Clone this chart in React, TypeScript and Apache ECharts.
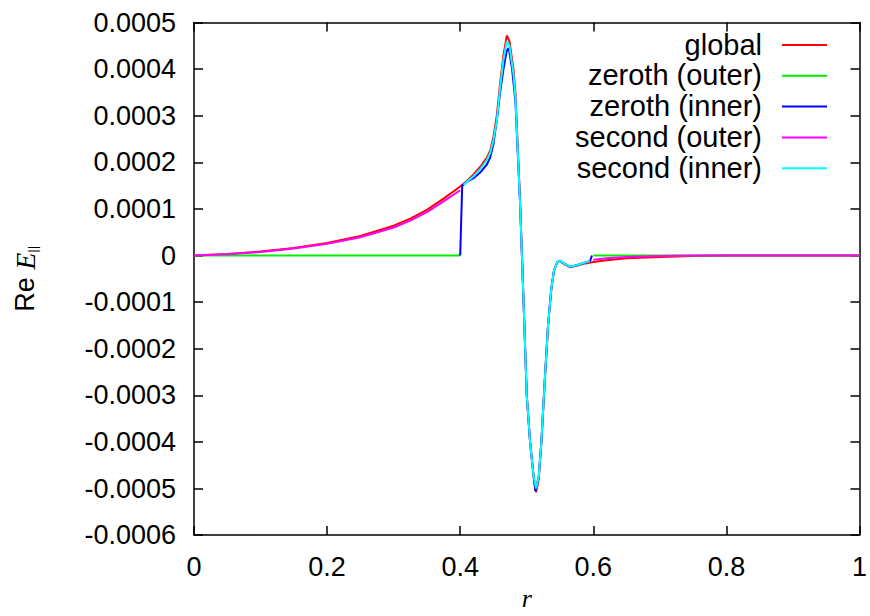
import React, { useEffect, useRef } from "react";
import * as echarts from "echarts";

// ---- data ----
const globalR = [0, 0.05, 0.1, 0.15, 0.2, 0.25, 0.3, 0.325, 0.35, 0.375, 0.4, 0.41, 0.42, 0.43, 0.44, 0.445, 0.45, 0.455, 0.46, 0.465, 0.47, 0.474, 0.48, 0.483, 0.49, 0.495, 0.5, 0.505, 0.51, 0.514, 0.518, 0.522, 0.527, 0.532, 0.537, 0.541, 0.546, 0.55, 0.557, 0.565, 0.575, 0.585, 0.6, 0.62, 0.65, 0.7, 0.75, 0.8, 0.9, 1];
const globalV = [0, 0.000003, 0.0000085, 0.000016, 0.000027, 0.000042, 0.000064, 0.000079, 0.000098, 0.000122, 0.000148, 0.00016, 0.000174, 0.00019, 0.00021, 0.000225, 0.000255, 0.0003, 0.00037, 0.00043, 0.000472, 0.00046, 0.0004, 0.00035, 0.000115, -0.00009, -0.0003, -0.0004, -0.00047, -0.000508, -0.00048, -0.0004, -0.00027, -0.00015, -0.00007, -0.000032, -0.000014, -0.000012, -0.000019, -0.000025, -0.000022, -0.000018, -0.000014, -0.00001, -0.000006, -0.000003, -0.000001, 0, 0, 0];

const zerothOuterR = [0, 0.4, 0.5, 0.6, 1];
const zerothOuterV = [0, 0, null, 0, 0];

const zerothInnerR = [0.4, 0.403, 0.41, 0.42, 0.43, 0.44, 0.445, 0.45, 0.455, 0.46, 0.465, 0.47, 0.473, 0.478, 0.483, 0.49, 0.495, 0.5, 0.505, 0.51, 0.513, 0.518, 0.522, 0.527, 0.532, 0.537, 0.541, 0.546, 0.55, 0.557, 0.565, 0.575, 0.585, 0.595, 0.598];
const zerothInnerV = [0, 0.00015, 0.000158, 0.000166, 0.000178, 0.000195, 0.00021, 0.00024, 0.00029, 0.00035, 0.0004, 0.00044, 0.000445, 0.0004, 0.00033, 0.00011, -0.00009, -0.0003, -0.0004, -0.00047, -0.000505, -0.000475, -0.0004, -0.00027, -0.00015, -0.00007, -0.000032, -0.000014, -0.000011, -0.000018, -0.000024, -0.000021, -0.000016, -0.000012, 0];

const secondOuterR = [0, 0.05, 0.1, 0.15, 0.2, 0.25, 0.3, 0.325, 0.35, 0.375, 0.4, 0.5, 0.6, 0.62, 0.65, 0.7, 0.75, 0.8, 0.9, 1];
const secondOuterV = [0, 0.0000025, 0.0000075, 0.000015, 0.000025, 0.000039, 0.00006, 0.000075, 0.000093, 0.000116, 0.00014, null, -0.000009, -0.000006, -0.000003, -0.000001, 0, 0, 0, 0];

const secondInnerR = [0.405, 0.41, 0.42, 0.43, 0.44, 0.445, 0.45, 0.455, 0.46, 0.465, 0.47, 0.474, 0.48, 0.483, 0.49, 0.495, 0.5, 0.505, 0.51, 0.514, 0.518, 0.522, 0.527, 0.532, 0.537, 0.541, 0.546, 0.55, 0.557, 0.565, 0.575, 0.585, 0.595];
const secondInnerV = [0.000152, 0.000158, 0.00017, 0.000185, 0.000205, 0.00022, 0.000248, 0.00029, 0.00036, 0.00042, 0.00046, 0.00045, 0.00039, 0.00034, 0.00011, -0.00009, -0.0003, -0.0004, -0.00047, -0.0005, -0.000475, -0.0004, -0.00027, -0.00015, -0.00007, -0.000032, -0.000014, -0.000011, -0.000018, -0.000024, -0.000021, -0.000016, -0.000012];

const seriesNames = ["global", "zeroth (outer)", "zeroth (inner)", "second (outer)", "second (inner)"];
const seriesColors = ["#ff0000", "#00ee00", "#0000ff", "#ff00ff", "#00ffff"];

const xTicks = [0, 0.2, 0.4, 0.6, 0.8, 1];
const yMin = -0.0006;
const yMax = 0.0005;
const yStep = 0.0001;

const FONT = "'Liberation Sans', Arial, Helvetica, sans-serif";

function pairs(r: number[], v: (number | null)[]) {
  return r.map((x, i) => [x, v[i] === null ? null : v[i]]);
}

export default function App() {
  const ref = useRef<HTMLDivElement>(null);
  useEffect(() => {
    document.body.style.margin = "0";
    if (!ref.current) return;
    const chart = echarts.init(ref.current, undefined, { renderer: "svg" });
    const dataSets = [
      pairs(globalR, globalV),
      pairs(zerothOuterR, zerothOuterV),
      pairs(zerothInnerR, zerothInnerV),
      pairs(secondOuterR, secondOuterV),
      pairs(secondInnerR, secondInnerV),
    ];
    const gridLeft = 194, gridRight = 7, gridTop = 22.5, gridBottom = 74;
    const legendTextX = 762;
    const legendLineX1 = 782, legendLineX2 = 827;
    const legendY0 = 45, legendDY = 30.8;
    const legend: any[] = [];
    seriesNames.forEach((n, i) => {
      legend.push({
        type: "text",
        right: 870 - legendTextX,
        top: legendY0 + i * legendDY - 15,
        style: { text: n, font: `29px ${FONT}`, fill: "#000", textAlign: "right" },
        z: 100,
      });
      legend.push({
        type: "line",
        shape: { x1: legendLineX1, y1: legendY0 + i * legendDY, x2: legendLineX2, y2: legendY0 + i * legendDY },
        style: { stroke: seriesColors[i], lineWidth: 2 },
        z: 100,
      });
    });
    const xBase = {
      type: "value",
      min: 0,
      max: 1,
      interval: 0.2,
      splitLine: { show: false },
      axisLine: { show: true, onZero: false, lineStyle: { color: "#000", width: 1.5 } },
      axisTick: { show: true, inside: true, length: 9, lineStyle: { color: "#000", width: 1.5 } },
    };
    const yBase = {
      type: "value",
      min: yMin,
      max: yMax,
      interval: yStep,
      splitLine: { show: false },
      axisLine: { show: true, onZero: false, lineStyle: { color: "#000", width: 1.5 } },
      axisTick: { show: true, inside: true, length: 9, lineStyle: { color: "#000", width: 1.5 } },
    };
    chart.setOption({
      animation: false,
      backgroundColor: "#fff",
      grid: { left: gridLeft, right: gridRight, top: gridTop, bottom: gridBottom, containLabel: false },
      xAxis: [
        {
          ...xBase,
          position: "bottom",
          name: "r",
          nameLocation: "middle",
          nameGap: 48,
          nameTextStyle: { fontFamily: "'Liberation Serif', 'Times New Roman', serif", fontStyle: "italic", fontSize: 26, color: "#000" },
          axisLabel: {
            show: true,
            margin: 18,
            fontFamily: FONT,
            fontSize: 27,
            color: "#000",
            formatter: (v: number) => String(+v.toFixed(1)),
            customValues: xTicks,
          },
        },
        { ...xBase, position: "top", axisLabel: { show: false } },
      ],
      yAxis: [
        {
          ...yBase,
          position: "left",
          name: "{a|Re }{e|E}{s|||}",
          nameLocation: "middle",
          nameRotate: 90,
          nameGap: 155,
          nameTextStyle: {
            color: "#000",
            rich: {
              a: { fontFamily: FONT, fontSize: 27, color: "#000" },
              e: { fontFamily: "'Liberation Serif', 'Times New Roman', serif", fontStyle: "italic", fontSize: 28, color: "#000" },
              s: { fontFamily: FONT, fontSize: 13, color: "#000", padding: [14, 0, 0, 0] },
            },
          },
          axisLabel: {
            show: true,
            margin: 18,
            fontFamily: FONT,
            fontSize: 27,
            color: "#000",
            formatter: (v: number) => (Math.abs(v) < 1e-12 ? "0" : v.toFixed(4)),
          },
        },
        { ...yBase, position: "right", axisLabel: { show: false } },
      ],
      series: dataSets.map((d, i) => ({
        type: "line",
        name: seriesNames[i],
        data: d,
        xAxisIndex: 0,
        yAxisIndex: 0,
        showSymbol: false,
        symbol: "none",
        connectNulls: false,
        lineStyle: { color: seriesColors[i], width: 2 },
        itemStyle: { color: seriesColors[i] },
        z: 2 + i * 0.01,
      })),
      graphic: legend,
    });
    return () => chart.dispose();
  }, []);
  return <div ref={ref} style={{ width: 870, height: 616 }} />;
}
